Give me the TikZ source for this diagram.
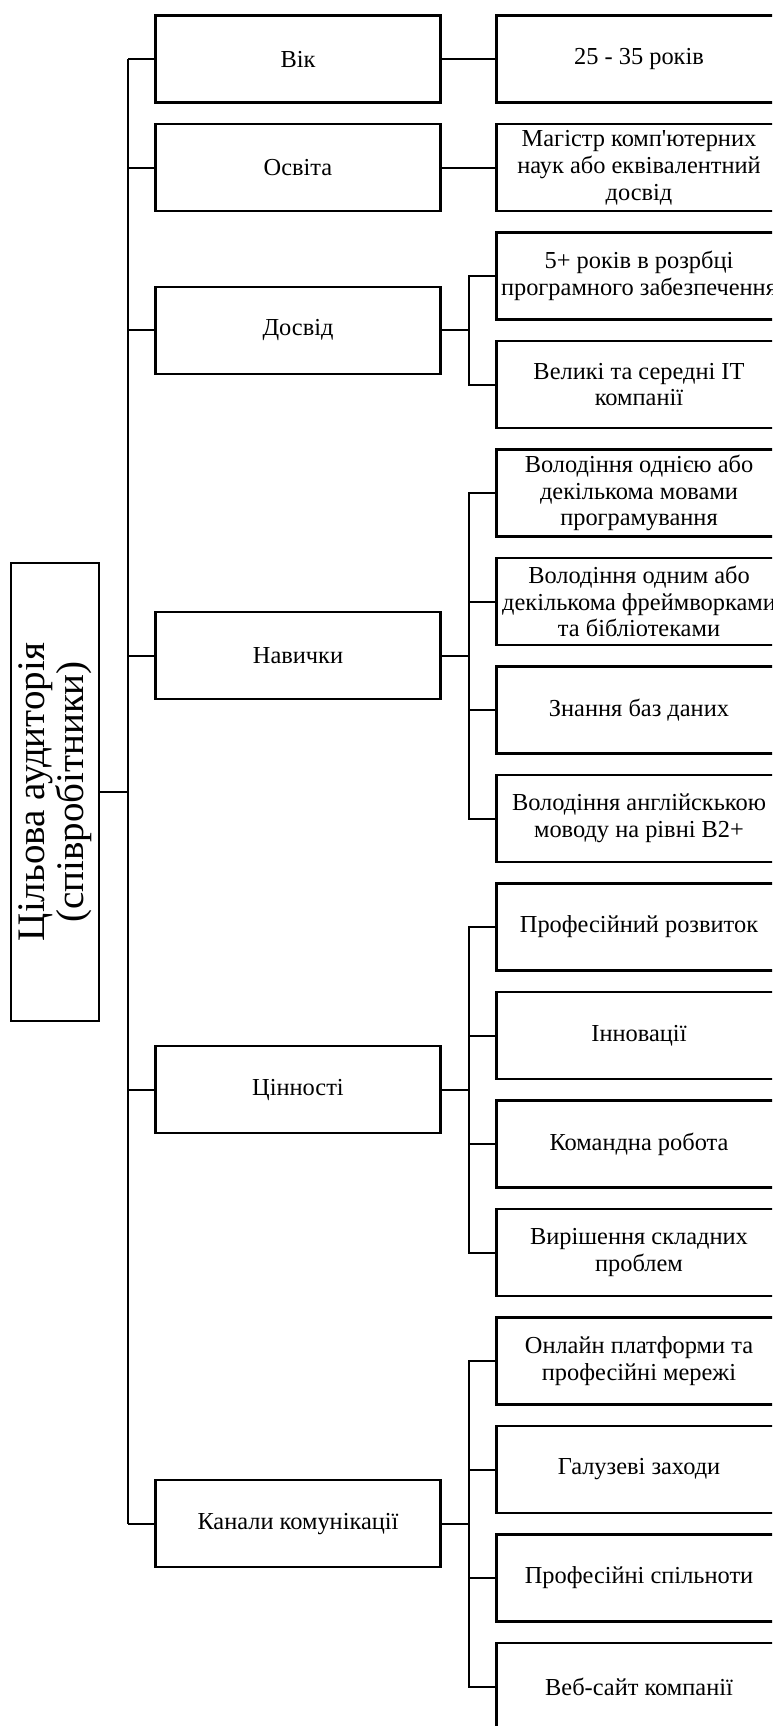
\documentclass[tikz,border=0pt]{standalone}
\usepackage{fontspec}
\setmainfont{Liberation Serif}
\begin{document}
\begin{tikzpicture}[x=0.5pt,y=-0.5pt,
  conn/.style={line width=1pt, black},
  boxbase/.style={draw=black, line width=1.1pt, fill=white, align=center, inner sep=2pt,
    font=\fontsize{12.2pt}{13.4pt}\selectfont},
  lonebox/.style={boxbase, minimum width=142.5pt, minimum height=43.5pt},
  ltwobox/.style={boxbase, minimum width=142.5pt, minimum height=43.5pt},
  rootbox/.style={draw=black, line width=1.1pt, align=center, rotate=90,
    minimum width=229pt, minimum height=44pt, inner sep=1pt,
    font=\fontsize{19.5pt}{19.5pt}\selectfont}]
\useasboundingbox (0,0) rectangle (772,1726);
\clip (0,0) rectangle (772,1726);

% root
\node[rootbox] (root) at (55,792) {Цільова аудиторія\\(співробітники)};

% level 1
\node[lonebox] (vik) at (298,59) {Вік};
\node[lonebox] (osv) at (298,167.5) {Освіта};
\node[lonebox] (dos) at (298,330.25) {Досвід};
\node[lonebox] (nav) at (298,655.75) {Навички};
\node[lonebox] (cin) at (298,1089.75) {Цінності};
\node[lonebox] (kan) at (298,1523.75) {Канали комунікації};

% level 2
\node[ltwobox] (a0) at (639,59) {25 - 35 років};
\node[ltwobox] (a1) at (639,167.5) {Магістр комп\textquotesingle ютерних\\наук або еквівалентний\\досвід};
\node[ltwobox] (a2) at (639,276) {5+ років в розрбці\\програмного забезпечення};
\node[ltwobox] (a3) at (639,384.5) {Великі та середні IT\\компанії};
\node[ltwobox] (a4) at (639,493) {Володіння однією або\\декількома мовами\\програмування};
\node[ltwobox] (a5) at (639,601.5) {Володіння одним або\\декількома фреймворками\\та бібліотеками};
\node[ltwobox] (a6) at (639,710) {Знання баз даних};
\node[ltwobox] (a7) at (639,818.5) {Володіння англійскькою\\моводу на рівні B2+};
\node[ltwobox] (a8) at (639,927) {Професійний розвиток};
\node[ltwobox] (a9) at (639,1035.5) {Інновації};
\node[ltwobox] (a10) at (639,1144) {Командна робота};
\node[ltwobox] (a11) at (639,1252.5) {Вирішення складних\\проблем};
\node[ltwobox] (a12) at (639,1361) {Онлайн платформи та\\професійні мережі};
\node[ltwobox] (a13) at (639,1469.5) {Галузеві заходи};
\node[ltwobox] (a14) at (639,1578) {Професійні спільноти};
\node[ltwobox] (a15) at (639,1686.5) {Веб-сайт компанії};

% trunk
\coordinate (trunk) at (128,0);
\coordinate (bus) at (468.7,0);
\draw[conn] (vik.west -| trunk) -- (kan.west -| trunk);
\draw[conn] (root.south) -- (root.south -| trunk);
\foreach \n in {vik,osv,dos,nav,cin,kan} {
  \draw[conn] (\n.west) -- (\n.west -| trunk);
}

% direct links
\draw[conn] (vik.east) -- (a0.west);
\draw[conn] (osv.east) -- (a1.west);

% Досвід group
\draw[conn] (dos.east) -- (dos.east -| bus);
\draw[conn] (a2.west) -- (a2.west -| bus) -- (a3.west -| bus) -- (a3.west);

% Навички group
\draw[conn] (nav.east) -- (nav.east -| bus);
\draw[conn] (a4.west) -- (a4.west -| bus) -- (a7.west -| bus) -- (a7.west);
\draw[conn] (a5.west) -- (a5.west -| bus);
\draw[conn] (a6.west) -- (a6.west -| bus);

% Цінності group
\draw[conn] (cin.east) -- (cin.east -| bus);
\draw[conn] (a8.west) -- (a8.west -| bus) -- (a11.west -| bus) -- (a11.west);
\draw[conn] (a9.west) -- (a9.west -| bus);
\draw[conn] (a10.west) -- (a10.west -| bus);

% Канали group
\draw[conn] (kan.east) -- (kan.east -| bus);
\draw[conn] (a12.west) -- (a12.west -| bus) -- (a15.west -| bus) -- (a15.west);
\draw[conn] (a13.west) -- (a13.west -| bus);
\draw[conn] (a14.west) -- (a14.west -| bus);
\end{tikzpicture}
\end{document}
